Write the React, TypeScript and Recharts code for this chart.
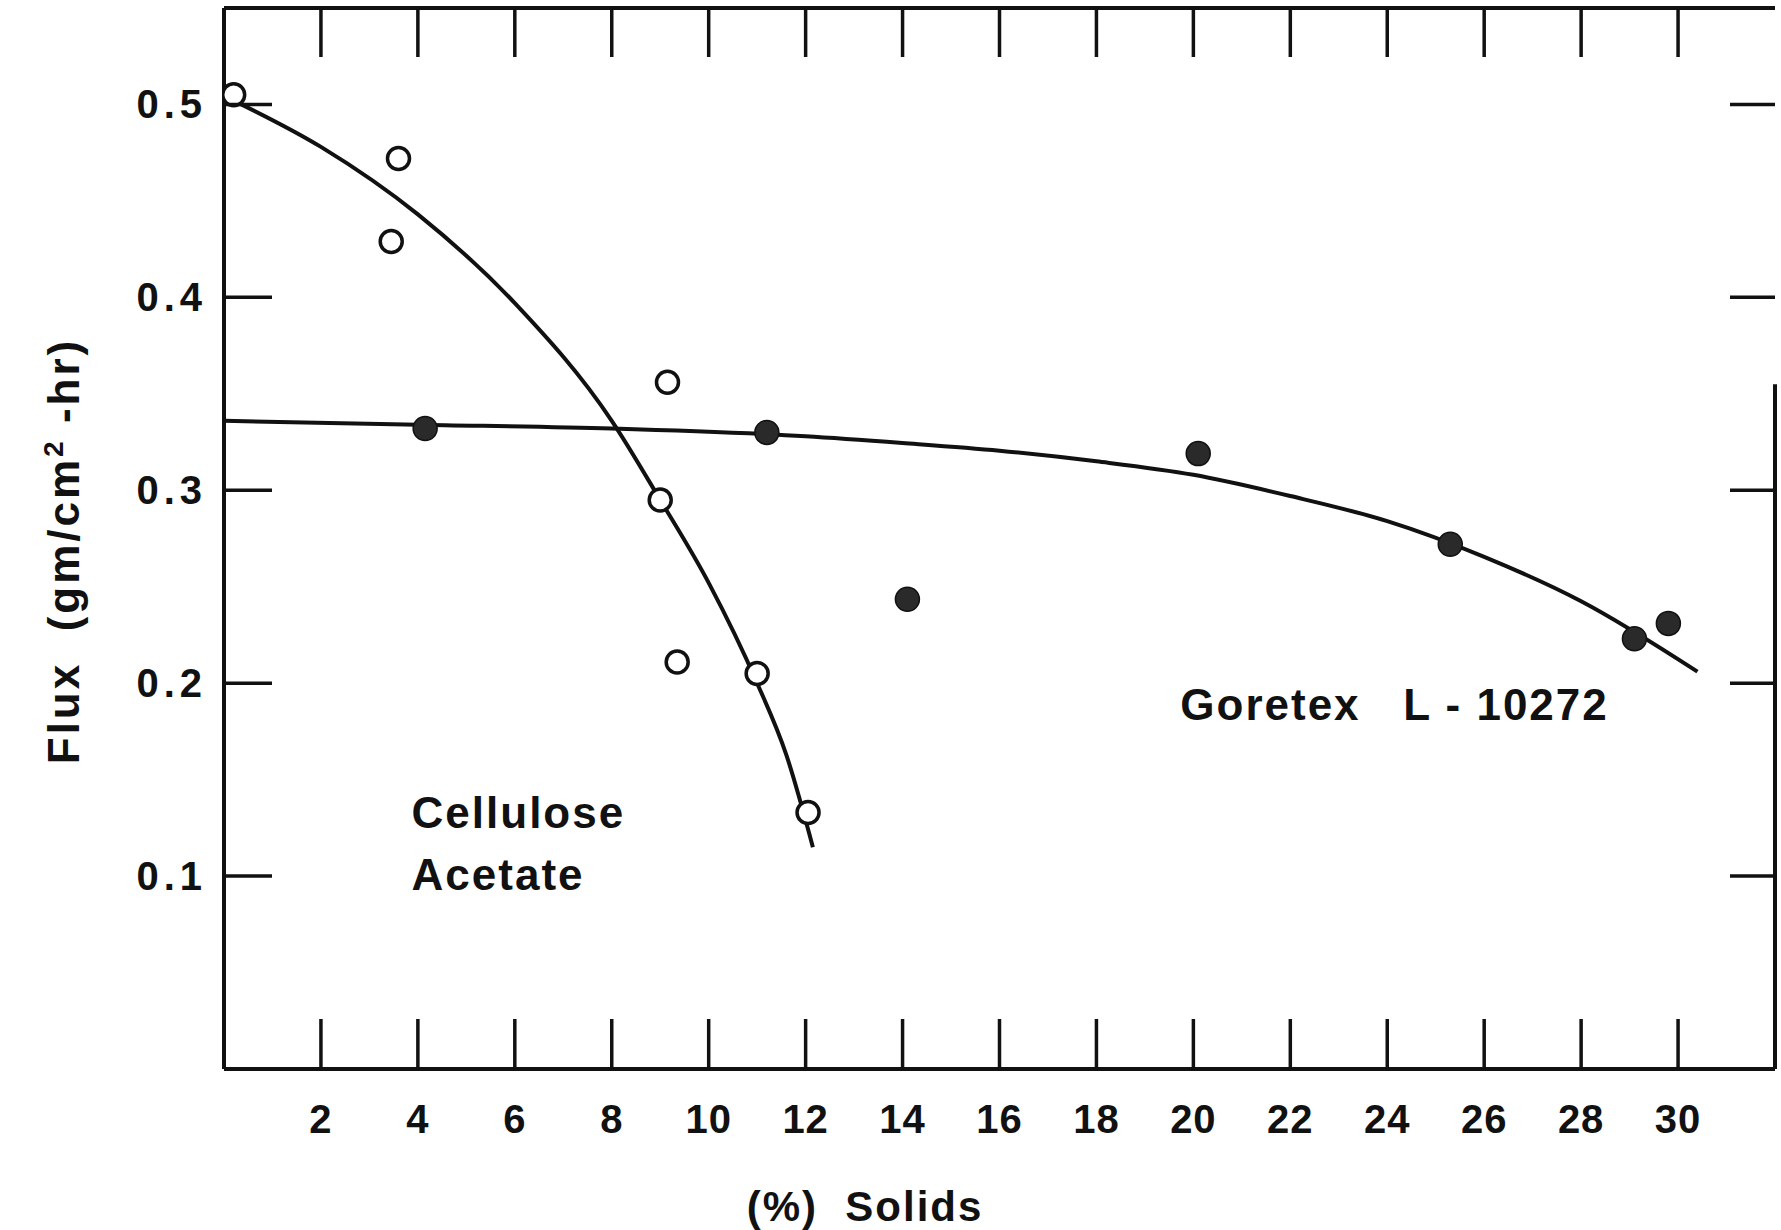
import React from 'react';
import { ComposedChart, Line, Scatter, XAxis, YAxis, ReferenceLine, ReferenceDot } from 'recharts';

// tick values
const xTicks = [2, 4, 6, 8, 10, 12, 14, 16, 18, 20, 22, 24, 26, 28, 30];
const yTicks = [0.1, 0.2, 0.3, 0.4, 0.5];

// Cellulose Acetate (open circles)
const caX = [0.2, 3.6, 3.45, 9.15, 9.0, 9.35, 11.0, 12.05];
const caY = [0.505, 0.472, 0.429, 0.356, 0.295, 0.211, 0.205, 0.133];
// Cellulose Acetate fitted curve
const caCurveX = [0.2, 2, 4, 6, 8, 9, 10, 11, 11.6, 12.15];
const caCurveY = [0.502, 0.478, 0.443, 0.397, 0.336, 0.295, 0.252, 0.2, 0.163, 0.115];

// Goretex L-10272 (filled circles)
const gtX = [4.15, 11.2, 20.1, 14.1, 25.3, 29.1, 29.8];
const gtY = [0.332, 0.33, 0.319, 0.2435, 0.272, 0.223, 0.231];
// Goretex fitted curve
const gtCurveX = [0, 4, 8, 12, 14, 16, 18, 20, 22, 24, 26, 28, 30.4];
const gtCurveY = [0.336, 0.334, 0.332, 0.328, 0.3245, 0.3205, 0.315, 0.308, 0.297, 0.284, 0.2655, 0.2425, 0.206];

const zip = (xs: number[], ys: number[]) => xs.map((x, i) => ({ x, y: ys[i] }));

const caPoints = zip(caX, caY);
const caCurve = zip(caCurveX, caCurveY);
const gtPoints = zip(gtX, gtY);
const gtCurve = zip(gtCurveX, gtCurveY);

const FONT = '"Liberation Sans", Arial, sans-serif';
const INK = '#111';

const BottomTick = (props: any) => {
  const { x, y, payload } = props;
  const base = y - 50;
  return (
    <g>
      <line x1={x} x2={x} y1={base} y2={base - 50} stroke={INK} strokeWidth={3.5} />
      <text x={x} y={y} dy="0.35em" textAnchor="middle" fontFamily={FONT} fontWeight="bold" fontSize={40} letterSpacing={1} fill={INK}>
        {payload.value}
      </text>
    </g>
  );
};

// top axis sits 1px above the plot
const TopTick = (props: any) => {
  const { x, y } = props;
  return <line x1={x} x2={x} y1={y} y2={y + 49} stroke={INK} strokeWidth={3.5} />;
};

const LeftTick = (props: any) => {
  const { x, y, payload } = props;
  const base = x + 17;
  return (
    <g>
      <line x1={base} x2={base + 48} y1={y} y2={y} stroke={INK} strokeWidth={3.5} />
      <text x={x} y={y} dy="0.35em" textAnchor="end" fontFamily={FONT} fontWeight="bold" fontSize={40} letterSpacing={5} fill={INK}>
        {payload.value.toFixed(1)}
      </text>
    </g>
  );
};

const RightTick = (props: any) => {
  const { x, y } = props;
  return <line x1={x} x2={x - 45} y1={y} y2={y} stroke={INK} strokeWidth={3.5} />;
};

const OpenDot = (props: any) => (
  <circle cx={props.cx} cy={props.cy} r={11} fill="#fff" stroke={INK} strokeWidth={3.5} />
);
const FilledDot = (props: any) => (
  <circle cx={props.cx} cy={props.cy} r={12} fill="#2a2a2a" stroke={INK} strokeWidth={1.5} />
);
const NoDot = () => <g />;

const txt = { fontFamily: FONT, fontWeight: 'bold' as const, fontSize: 44, letterSpacing: 2, fill: INK };

export default function App() {
  return (
    <div style={{ position: 'absolute', left: 0, top: 0, background: '#fff' }}>
      <ComposedChart width={1781} height={1230} margin={{ top: 7, right: 5, left: 0, bottom: 0 }}>
        <XAxis
          xAxisId={0}
          type="number"
          dataKey="x"
          domain={[0, 32]}
          allowDataOverflow
          ticks={xTicks}
          interval={0}
          height={161}
          tickSize={0}
          tickMargin={50}
          tickLine={false}
          axisLine={{ stroke: INK, strokeWidth: 4 }}
          tick={<BottomTick />}
          label={{
            content: (p: any) => {
              const vb = p.viewBox;
              return (
                <text x={vb.x + 641} y={vb.y + 137} dy="0.35em" textAnchor="middle" {...txt} fontSize={42} xmlSpace="preserve">
                  (%)  Solids
                </text>
              );
            },
          }}
        />
        <XAxis
          xAxisId="top"
          orientation="top"
          type="number"
          dataKey="x"
          domain={[0, 32]}
          allowDataOverflow
          ticks={xTicks}
          interval={0}
          height={1}
          tickSize={0}
          tickMargin={0}
          tickLine={false}
          axisLine={{ stroke: INK, strokeWidth: 4 }}
          tick={<TopTick />}
        />
        <YAxis
          yAxisId={0}
          type="number"
          dataKey="y"
          domain={[0, 0.55]}
          allowDataOverflow
          ticks={yTicks}
          interval={0}
          width={224}
          tickSize={0}
          tickMargin={17}
          tickLine={false}
          axisLine={{ stroke: INK, strokeWidth: 4 }}
          tick={<LeftTick />}
          label={{
            content: () => (
              <text transform="rotate(-90, 64, 551)" x={64} y={551} dy="0.35em" textAnchor="middle" {...txt} letterSpacing={3} xmlSpace="preserve">
                Flux  (gm/cm
                <tspan dy={-16} fontSize={28}>2</tspan>
                <tspan dy={16}> -hr)</tspan>
              </text>
            ),
          }}
        />
        <YAxis
          yAxisId="right"
          orientation="right"
          type="number"
          dataKey="y"
          domain={[0, 0.55]}
          allowDataOverflow
          ticks={yTicks}
          interval={0}
          width={1}
          tickSize={0}
          tickMargin={0}
          tickLine={false}
          axisLine={false}
          tick={<RightTick />}
        />
        <ReferenceLine
          segment={[{ x: 32, y: 0 }, { x: 32, y: 0.355 }]}
          stroke={INK}
          strokeWidth={4}
          ifOverflow="visible"
        />
        {/* keeps the top and right frame axes alive */}
        <Scatter xAxisId="top" yAxisId="right" data={caPoints} dataKey="y" shape={<NoDot />} isAnimationActive={false} />
        <Line
          data={caCurve}
          dataKey="y"
          type="monotone"
          stroke={INK}
          strokeWidth={4}
          dot={false}
          activeDot={false}
          isAnimationActive={false}
        />
        <Line
          data={gtCurve}
          dataKey="y"
          type="monotone"
          stroke={INK}
          strokeWidth={4}
          dot={false}
          activeDot={false}
          isAnimationActive={false}
        />
        <Scatter data={caPoints} dataKey="y" shape={<OpenDot />} isAnimationActive={false} />
        <Scatter data={gtPoints} dataKey="y" shape={<FilledDot />} isAnimationActive={false} />
        <ReferenceDot
          x={3.87}
          y={0.125}
          r={0}
          ifOverflow="visible"
          label={{
            content: (p: any) => (
              <text x={p.viewBox.x} y={p.viewBox.y} {...txt}>
                <tspan x={p.viewBox.x}>Cellulose</tspan>
                <tspan x={p.viewBox.x} dy={62}>Acetate</tspan>
              </text>
            ),
          }}
        />
        <ReferenceDot
          x={19.73}
          y={0.181}
          r={0}
          ifOverflow="visible"
          label={{
            content: (p: any) => (
              <text x={p.viewBox.x} y={p.viewBox.y} {...txt} xmlSpace="preserve">
                Goretex   L - 10272
              </text>
            ),
          }}
        />
      </ComposedChart>
    </div>
  );
}
